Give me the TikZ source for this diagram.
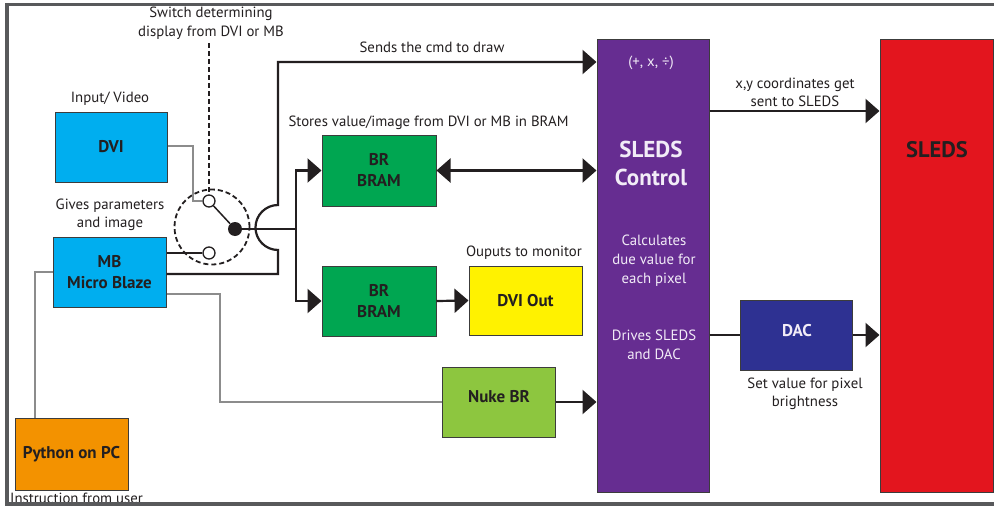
\documentclass[tikz,border=0pt]{standalone}
\usepackage{fontspec}
\setmainfont{PT Sans}
\usetikzlibrary{arrows.meta}
\definecolor{ink}{HTML}{231F20}
\definecolor{boxline}{HTML}{3C3C3C}
\definecolor{cyanb}{HTML}{00AEEF}
\definecolor{greenb}{HTML}{00A651}
\definecolor{yellowb}{HTML}{FFF200}
\definecolor{purpleb}{HTML}{662D91}
\definecolor{redb}{HTML}{E3151E}
\definecolor{dacb}{HTML}{2E3192}
\definecolor{limeb}{HTML}{8DC63F}
\definecolor{orangeb}{HTML}{F39200}
\definecolor{lgray}{HTML}{8C8C8C}
\definecolor{framec}{HTML}{58595B}
\definecolor{lwhite}{HTML}{F2ECF7}
\begin{document}
\begin{tikzpicture}[x=1pt,y=-1pt,
  box/.style={draw=boxline, line width=1pt, inner sep=0pt, align=center,
    font=\fontsize{17}{21}\selectfont\bfseries, text=ink},
  lbl/.style={align=center, font=\fontsize{14.8}{18.5}\selectfont, text=ink, inner sep=0pt},
  wlbl/.style={align=center, font=\fontsize{14.8}{19}\selectfont, text=lwhite, inner sep=0pt},
  blk/.style={line width=2.2pt, draw=ink},
  arr/.style={blk, -{Triangle[length=14pt,width=24pt]}},
  darr/.style={blk, {Triangle[length=14pt,width=24pt]}-{Triangle[length=14pt,width=24pt]}},
  gry/.style={line width=1.3pt, draw=lgray},
  dsh/.style={line width=1.8pt, draw=ink, dash pattern=on 5pt off 3pt}]
\useasboundingbox (0,0) rectangle (994,506);
\fill[white] (0,0) rectangle (994,506);

% boxes
\node[box, fill=cyanb, minimum width=112pt, minimum height=70pt] (dvi) at (111,147) {DVI};
\node[box, fill=cyanb, minimum width=113pt, minimum height=70pt] (mb) at (109.5,272) {MB\\Micro Blaze};
\node[box, fill=orangeb, minimum width=113pt, minimum height=72pt] (py) at (71.5,454) {Python on PC};
\node[box, fill=greenb, minimum width=114pt, minimum height=71pt] (bram1) at (379,170.5) {BR\\BRAM};
\node[box, fill=greenb, minimum width=114pt, minimum height=70pt] (bram2) at (379,301) {BR\\BRAM};
\node[box, fill=yellowb, minimum width=113pt, minimum height=69pt] (dviout) at (525.5,300.5) {DVI Out};
\node[box, fill=limeb, minimum width=113pt, minimum height=70pt] (nuke) at (499,402) {};
\node[inner sep=0pt, text=ink, font=\fontsize{17}{21}\selectfont\bfseries] (nuket) at (499,397) {Nuke BR};
\node[box, fill=purpleb, minimum width=112pt, minimum height=453pt] (ctrl) at (653,265.5) {};
\node[box, fill=redb, minimum width=113pt, minimum height=453pt] (sleds) at (936.5,265.5) {};
\node[box, fill=dacb, minimum width=112pt, minimum height=70pt] (dac) at (796,335) {};

% texts inside tall boxes
\node[wlbl] (ops) at (651,63) {(+, x, ÷)};
\node[align=center, inner sep=0pt, text=lwhite, font=\fontsize{23}{28}\selectfont\bfseries] (ctrlt) at (651,163) {SLEDS\\Control};
\node[wlbl] (calc) at (654,261) {Calculates\\due value for\\each pixel};
\node[wlbl] (drives) at (654,345) {Drives SLEDS\\and DAC};
\node[inner sep=0pt, text=ink, font=\fontsize{22.5}{26}\selectfont\bfseries] (sledst) at (937,150) {SLEDS};
\node[inner sep=0pt, text=lwhite, font=\fontsize{17}{21}\selectfont\bfseries] (dact) at (797,331) {DAC};

% labels
\node[lbl] (swlbl) at (211,23) {Switch determining\\display from DVI or MB};
\node[lbl] (inlbl) at (110,99) {Input/ Video};
\node[lbl] (gplbl) at (110,215) {Gives parameters\\and image};
\node[lbl] (cmdlbl) at (432,47) {Sends the cmd to draw};
\node[lbl] (stlbl) at (428.5,123) {Stores value/image from DVI or MB in BRAM};
\node[lbl] (outlbl) at (524,253) {Ouputs to monitor};
\node[lbl] (xylbl) at (795,92.5) {x,y coordinates get\\sent to SLEDS};
\node[lbl] (setlbl) at (805,394) {Set value for pixel\\brightness};
\node[lbl, anchor=base west] (instr) at (10,503) {Instruction from user};

% switch
\node[circle, dsh, minimum size=75pt, inner sep=0pt] (sw) at (212,227) {};
\node[circle, draw=ink, line width=1.3pt, fill=white, minimum size=12pt, inner sep=0pt] (swa) at (209,201) {};
\node[circle, draw=ink, line width=1.3pt, fill=white, minimum size=12pt, inner sep=0pt] (swb) at (209,253) {};
\node[circle, fill=ink, minimum size=14pt, inner sep=0pt] (swc) at (235,229) {};
\coordinate (j) at (296,229);
\draw[dsh] (swlbl.south -| swa) ++(0,4) -- (swa.north);
\draw[line width=1.5pt, draw=ink] (swa) -- (swc);

% gray connectors
\draw[gry] (dvi.east |- 0,146) -- (193,146) |- (swa.west);
\draw[gry] (mb.east |- 0,294) -- (220,294) |- (nuke.west);
\draw[gry] (py.north -| 35,0) |- (mb.west);

% black connectors
\draw[blk] (mb.east |- swb) -- (swb.west);
\draw[blk] (swc) -- (j);
\draw[arr] (j) |- (bram1.west);
\draw[arr] (j) |- (bram2.west);
\draw[arr] (mb.east |- 0,274) -- (278,274) -- (278,250)
  arc[start angle=-90, end angle=-270, radius=22.5pt] -- (278,62) -- (ctrl.west |- 0,62);
\draw[darr] (bram1.east) -- (ctrl.west |- bram1.east);
\draw[arr] (bram2.east) -- (dviout.west);
\draw[arr] (nuke.east) -- (ctrl.west |- nuke.east);
\draw[arr] (ctrl.east |- 0,111) -- (sleds.west |- 0,111);
\draw[blk] (ctrl.east |- dac.west) -- (dac.west);
\draw[arr] (dac.east) -- (sleds.west |- dac.east);

% frame
\draw[line width=3.5pt, draw=framec] (1000,4.5) -- (7,4.5) -- (7,504) -- (1000,504);
\end{tikzpicture}
\end{document}
